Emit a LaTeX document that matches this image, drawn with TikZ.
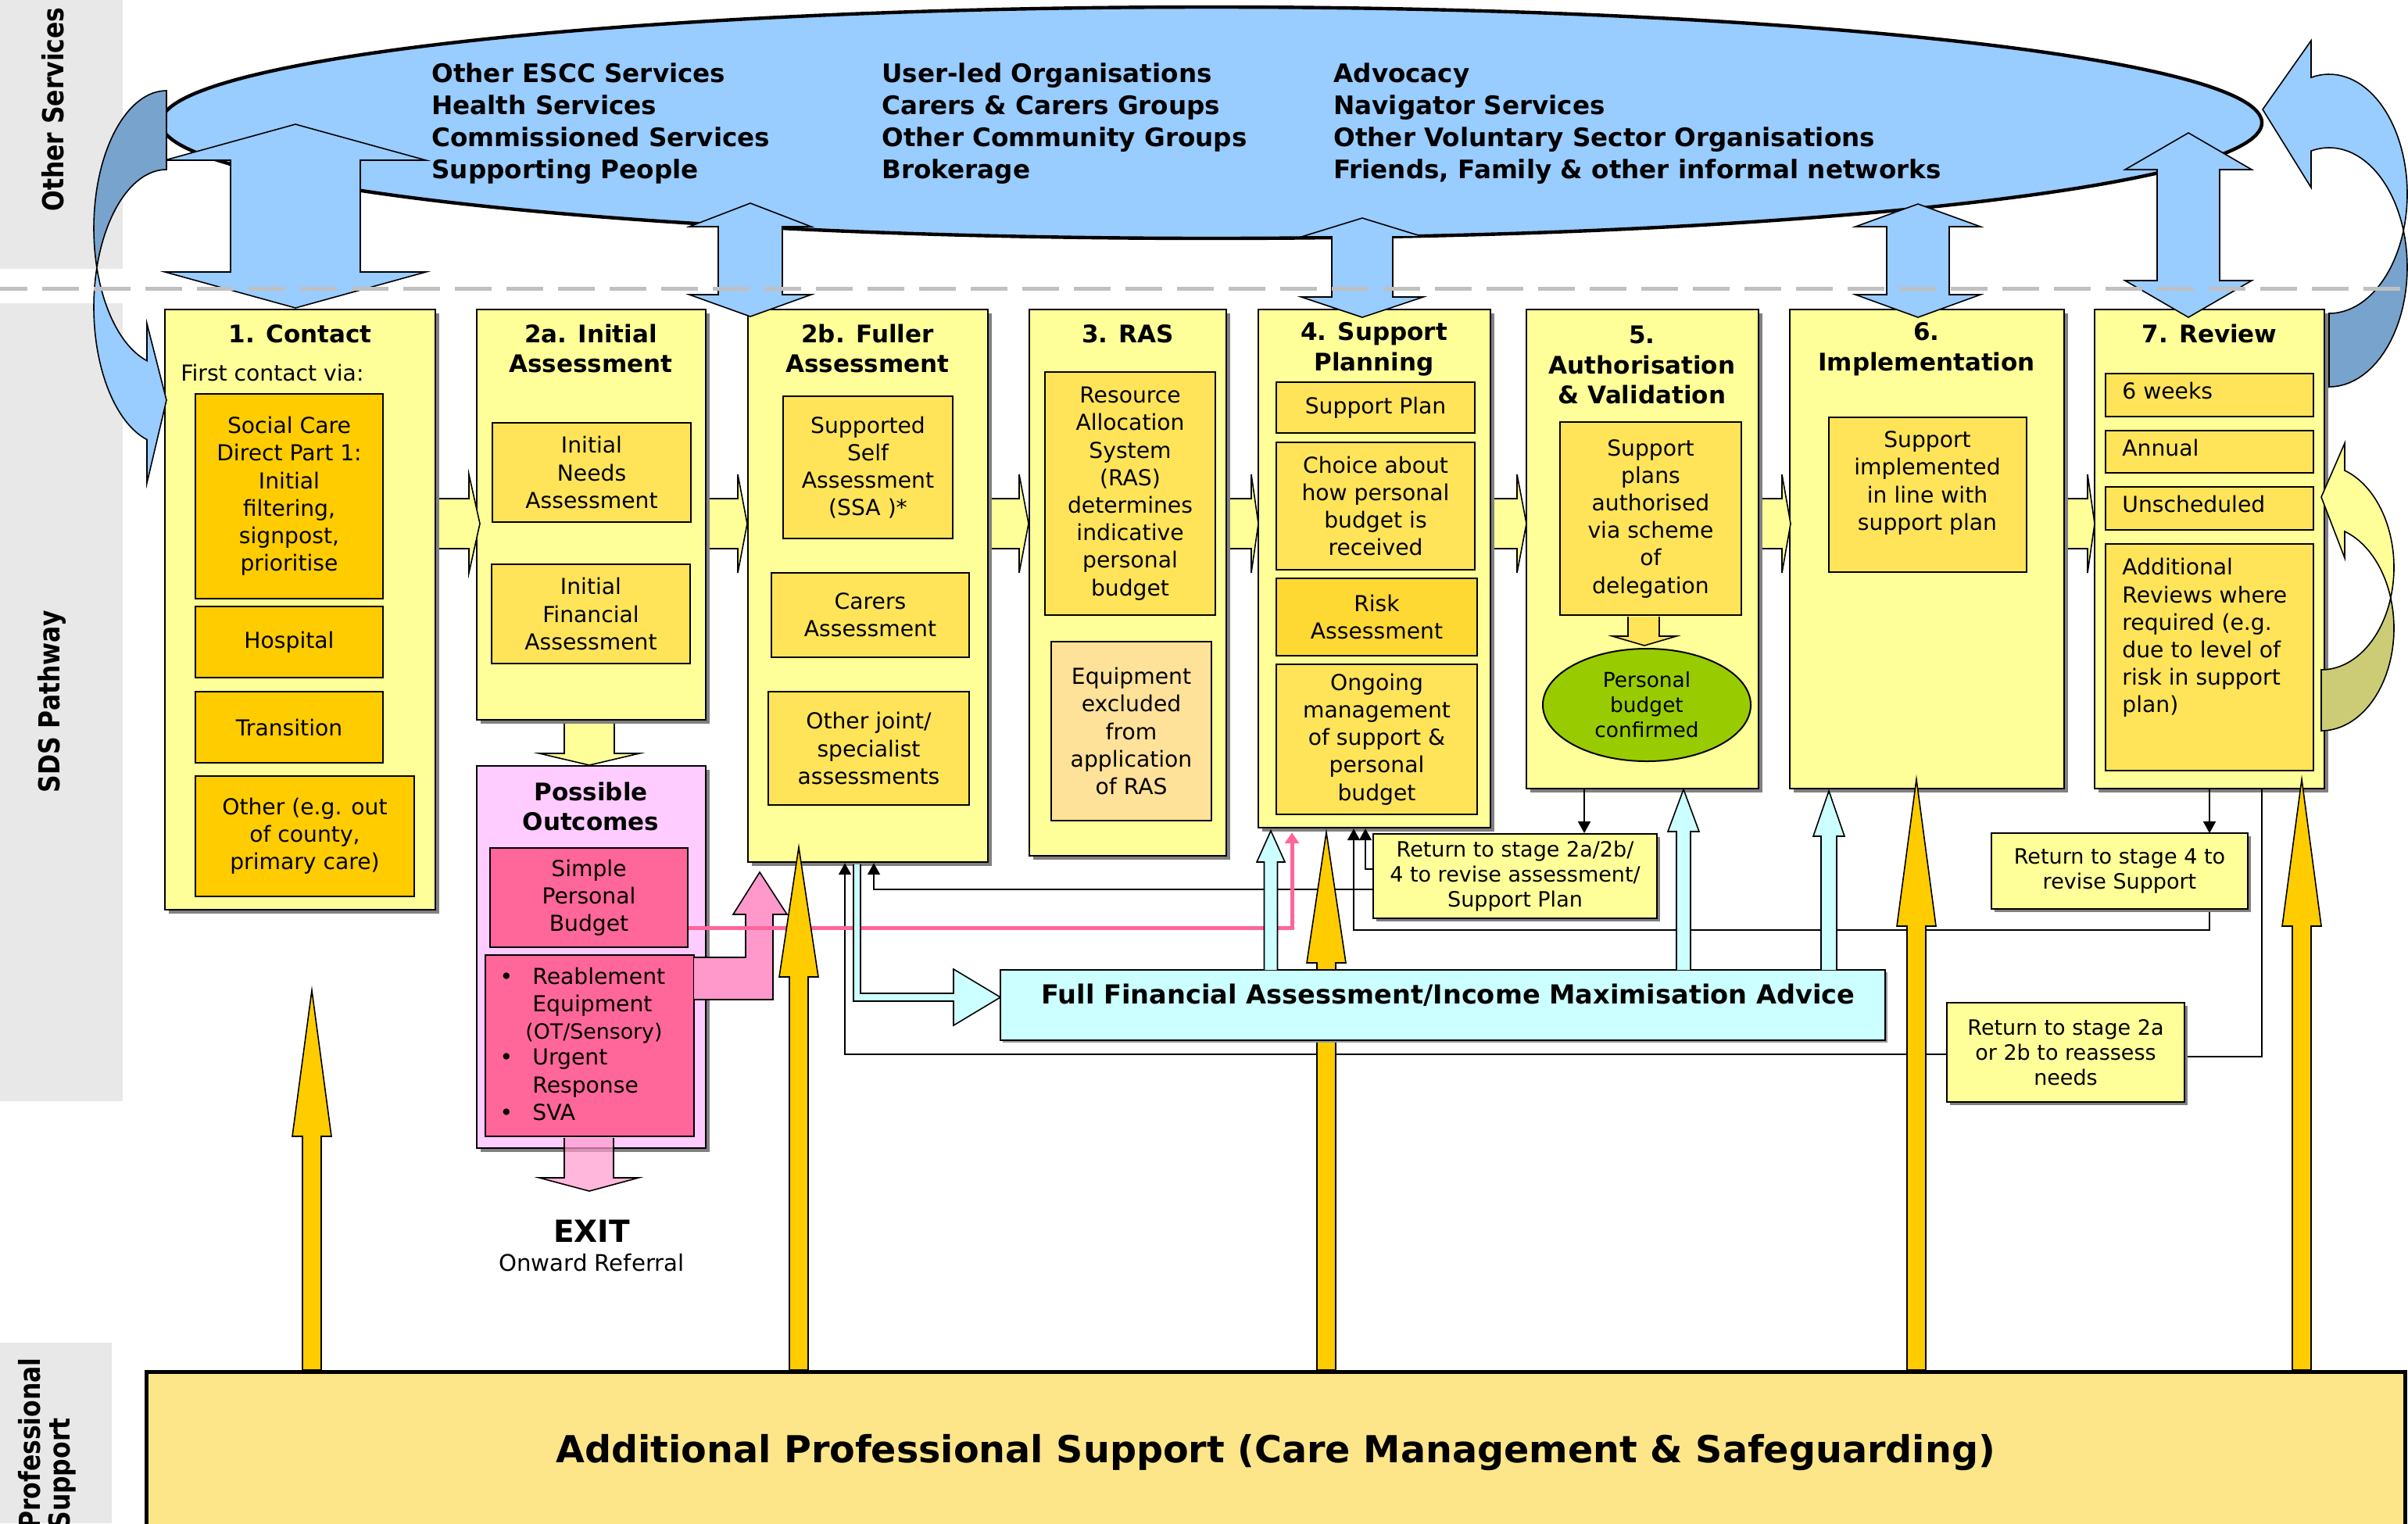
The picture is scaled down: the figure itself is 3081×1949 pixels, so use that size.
\documentclass[tikz,border=0pt]{standalone}
\usepackage{fontspec}
\setmainfont{DejaVu Sans}
\usetikzlibrary{shapes.geometric, arrows.meta, calc, shadows}

\definecolor{stageY}{HTML}{FFFF99}
\definecolor{goldL}{HTML}{FFE459}
\definecolor{orangeC}{HTML}{FFCC00}
\definecolor{equipC}{HTML}{FFE299}
\definecolor{riskC}{HTML}{FFD933}
\definecolor{pinkBg}{HTML}{FFCCFF}
\definecolor{pinkBox}{HTML}{FF6699}
\definecolor{pinkArr}{HTML}{FF99CC}
\definecolor{cyanC}{HTML}{CCFFFF}
\definecolor{blueC}{HTML}{99CCFF}
\definecolor{blueDark}{HTML}{78A3CC}
\definecolor{oliveC}{HTML}{CCCC77}
\definecolor{greenC}{HTML}{99CC00}
\definecolor{profC}{HTML}{FDE68A}
\definecolor{laneC}{HTML}{E8E8E8}
\definecolor{dashC}{HTML}{C0C0C0}

\newcommand\fBody{\fontsize{14.1}{17.6}\selectfont}
\newcommand\fSmall{\fontsize{13.4}{17.6}\selectfont}
\newcommand\fTitle{\fontsize{15.5}{19.4}\selectfont\bfseries}
\newcommand\fRet{\fontsize{13.5}{16}\selectfont}
\newcommand\fEll{\fontsize{16.3}{20.5}\selectfont\bfseries}
\newcommand\fLane{\fontsize{18.5}{21}\selectfont\bfseries}
\newcommand\fGreen{\fontsize{13.2}{16}\selectfont}
\newcommand\fFFA{\fontsize{16.8}{20}\selectfont\bfseries}
\newcommand\fProf{\fontsize{23.8}{28}\selectfont\bfseries}
\newcommand\fExit{\fontsize{19.5}{23}\selectfont\bfseries}
\newcommand\fOnward{\fontsize{14.6}{17}\selectfont}

% box given by its corners (x1,y1) (x2,y2) in pixel units
\newcommand\placebox[7]{\node[#6, minimum width={(#4-#2)*0.5pt}, minimum height={(#5-#3)*0.5pt}] (#1) at ({(#2+#4)/2},{(#3+#5)/2}) {#7};}
% filled block shape whose open side has no outline
\newcommand\openshape[2]{\fill[#1] #2 -- cycle; \draw[line width=0.8pt, line join=miter] #2;}
% yellow flow arrow between stages
\newcommand\rarr[3]{\openshape{stageY}{(#1,638) -- (#2,638) -- (#2,607) -- (#3,670) -- (#2,733) -- (#2,702) -- (#1,702)}}
% gold support arrow: centre x, tip y, head base y
\newcommand\goldarr[3]{\filldraw[fill=orangeC, line width=0.8pt, line join=miter] ({#1-12},1753) -- ({#1-12},#3) -- ({#1-25},#3) -- (#1,#2) -- ({#1+25},#3) -- ({#1+12},#3) -- ({#1+12},1753) -- cycle;}
% two-headed blue arrow: cx, top tip, top base, bottom base, bottom tip, head half width, shaft half width
\newcommand\dblarr[7]{\filldraw[fill=blueC, line width=0.8pt, line join=miter] (#1,#2) -- ({#1+#6},#3) -- ({#1+#7},#3) -- ({#1+#7},#4) -- ({#1+#6},#4) -- (#1,#5) -- ({#1-#6},#4) -- ({#1-#7},#4) -- ({#1-#7},#3) -- ({#1-#6},#3) -- cycle;}

\begin{document}
\begin{tikzpicture}[x=0.5pt, y=-0.5pt,
  stagebox/.style={draw, line width=1.2pt, fill=stageY, inner sep=0pt,
    general shadow={fill=black!50, shadow xshift=2.5pt, shadow yshift=-2.5pt}},
  inbox/.style={draw, line width=1pt, fill=goldL, inner sep=0pt, font=\fBody, align=center},
  retbox/.style={draw, line width=1pt, fill=stageY, inner sep=0pt, font=\fRet, align=center,
    general shadow={fill=black!50, shadow xshift=2pt, shadow yshift=-2pt}},
  stitle/.style={font=\fTitle, align=center, inner sep=0pt},
  lanelbl/.style={font=\fLane, inner sep=0pt},
  elltext/.style={font=\fEll, align=left, inner sep=0pt, anchor=north west},
  lineL/.style={font=\fBody, inner sep=0pt, anchor=west, text height=0.75em, text depth=0.2em},
  bul/.style={font=\fBody, inner sep=0pt, text height=0.75em, text depth=0.2em},
  conn/.style={draw, line width=1pt, -{Triangle[length=7.5pt,width=8pt]}},
  plain/.style={draw, line width=1pt},
  pinkline/.style={draw=pinkBox, line width=2.5pt, -{Triangle[length=7pt,width=9pt]}}
]
\useasboundingbox (0,0) rectangle (3081,1949);
\fill[white] (0,0) rectangle (3081,1949);

% ---------- lane bands ----------
\fill[laneC] (0,0) rectangle (157,344);
\fill[laneC] (0,388) rectangle (157,1409);
\fill[laneC] (0,1718) rectangle (143,1949);
\node[lanelbl, rotate=90] (laneOS) at (68,140) {\scalebox{0.85}[1]{Other Services}};
\node[lanelbl, rotate=90] (laneSDS) at (66,898) {\scalebox{0.85}[1]{SDS Pathway}};
\node[lanelbl, rotate=90, anchor=west] (lanePSa) at (38,1957) {\scalebox{0.85}[1]{Professional}};
\node[lanelbl, rotate=90, anchor=west] (lanePSb) at (80,1957) {\scalebox{0.85}[1]{Support}};

% ---------- stage boxes ----------
\placebox{s1}{211}{396}{557}{1164}{stagebox}{}
\placebox{s2a}{610}{396}{903}{921}{stagebox}{}
\placebox{po}{610}{980}{903}{1469}{stagebox, fill=pinkBg}{}
\placebox{s2b}{957}{396}{1264}{1103}{stagebox}{}
\placebox{s3}{1317}{396}{1569}{1095}{stagebox}{}
\placebox{s4}{1610}{396}{1907}{1059}{stagebox}{}
\placebox{s5}{1953}{396}{2250}{1009}{stagebox}{}
\placebox{s6}{2290}{396}{2641}{1009}{stagebox}{}
\placebox{s7}{2680}{396}{2974}{1009}{stagebox}{}

% stage titles
\node[stitle] (t1) at (384,427) {1. Contact};
\node[stitle] (t2a) at (756,446) {2a. Initial\\Assessment};
\node[stitle] (t2b) at (1110,446) {2b. Fuller\\Assessment};
\node[stitle] (t3) at (1443,427) {3. RAS};
\node[stitle] (t4) at (1758,447) {4. Support\\Planning};
\node[stitle] (t5) at (2101,467) {5.\\Authorisation\\\& Validation};
\node[stitle] (t6) at (2465,447) {6.\\Implementation};
\node[stitle] (t7) at (2827,427) {7. Review};
\node[stitle] (tpo) at (756,1032) {Possible\\Outcomes};

% 1. Contact
\node[font=\fBody, anchor=west, inner sep=0pt] (fcv) at (231,477) {First contact via:};
\placebox{scd}{250}{504}{490}{766}{inbox, fill=orangeC}{Social Care\\Direct Part 1:\\Initial\\filtering,\\signpost,\\prioritise}
\placebox{hosp}{250}{776}{490}{867}{inbox, fill=orangeC}{Hospital}
\placebox{trans}{250}{885}{490}{976}{inbox, fill=orangeC}{Transition}
\placebox{othr}{250}{993}{530}{1147}{inbox, fill=orangeC}{Other (e.g. out\\of county,\\primary care)}

% 2a
\placebox{ina}{630}{541}{884}{668}{inbox}{Initial\\Needs\\Assessment}
\placebox{ifa}{629}{722}{883}{849}{inbox}{Initial\\Financial\\Assessment}

% possible outcomes
\placebox{spb}{627}{1085}{880}{1212}{inbox, fill=pinkBox}{Simple\\Personal\\Budget}
\placebox{reab}{621}{1222}{888}{1454}{inbox, fill=pinkBox}{}
\node[bul] (d1) at (648,1254) {•};
\node[bul] (d2) at (648,1357) {•};
\node[bul] (d3) at (648,1428) {•};
\node[lineL] (b1a) at (681,1254) {Reablement};
\node[lineL] (b1b) at (681,1289) {Equipment};
\node[lineL, font=\fSmall] (b1c) at (672,1324) {(OT/Sensory)};
\node[lineL] (b2a) at (681,1357) {Urgent};
\node[lineL] (b2b) at (681,1393) {Response};
\node[lineL] (b3a) at (681,1428) {SVA};

% 2b
\placebox{ssa}{1002}{507}{1219}{689}{inbox}{Supported\\Self\\Assessment\\(SSA )*}
\placebox{carers}{987}{733}{1240}{841}{inbox}{Carers\\Assessment}
\placebox{ojs}{983}{885}{1240}{1030}{inbox}{Other joint/\\specialist\\assessments}

% 3
\placebox{ras}{1337}{476}{1555}{787}{inbox}{Resource\\Allocation\\System\\(RAS)\\determines\\indicative\\personal\\budget}
\placebox{equip}{1345}{821}{1550}{1050}{inbox, fill=equipC}{Equipment\\excluded\\from\\application\\of RAS}

% 4
\placebox{spl}{1633}{489}{1887}{554}{inbox}{Support Plan}
\placebox{choice}{1633}{566}{1887}{729}{inbox}{Choice about\\how personal\\budget is\\received}
\placebox{risk}{1633}{740}{1890}{839}{inbox, fill=riskC}{Risk\\Assessment}
\placebox{ongo}{1633}{850}{1890}{1042}{inbox}{Ongoing\\management\\of support \&\\personal\\budget}

% 5
\placebox{spa}{1996}{540}{2228}{787}{inbox}{Support\\plans\\authorised\\via scheme\\of\\delegation}
\openshape{goldL}{(2083,789) -- (2083,814) -- (2063,814) -- (2104,826) -- (2145,814) -- (2123,814) -- (2123,789)}
\node[ellipse, draw, line width=1pt, fill=greenC, minimum width={266*0.5pt}, minimum height={144*0.5pt}, inner sep=0pt, font=\fGreen, align=center] (pbc) at (2107,902) {Personal\\budget\\confirmed};

% 6
\placebox{sil}{2340}{534}{2593}{732}{inbox}{}
\node[font=\fBody, align=center, inner sep=0pt] (silt) at (2466,618) {Support\\implemented\\in line with\\support plan};

% 7
\placebox{w6}{2694}{478}{2960}{533}{inbox}{}
\node[lineL] (w6t) at (2715,505) {6 weeks};
\placebox{ann}{2694}{551}{2960}{605}{inbox}{}
\node[lineL] (annt) at (2715,578) {Annual};
\placebox{uns}{2694}{623}{2960}{678}{inbox}{}
\node[lineL] (unst) at (2715,650) {Unscheduled};
\placebox{addl}{2694}{696}{2960}{986}{inbox}{}
\node[font=\fBody, align=left, inner sep=0pt, anchor=north west] (addlt) at (2715,714) {Additional\\Reviews where\\required (e.g.\\due to level of\\risk in support\\plan)};

% flow arrows between stages
\rarr{562}{600}{614}
\rarr{908}{944}{956}
\rarr{1269}{1304}{1316}
\rarr{1574}{1601}{1610}
\rarr{1912}{1941}{1953}
\rarr{2255}{2280}{2291}
\rarr{2646}{2671}{2680}
\openshape{stageY}{(722,926) -- (722,964) -- (690,964) -- (754,979) -- (818,964) -- (786,964) -- (786,926)}

% review loop arrow
\filldraw[fill=oliveC, line width=0.8pt] plot[domain=90:17.3, samples=30] ({2970+93*cos(\x)},{726+131*sin(\x)}) -- plot[domain=-17.3:90, samples=30] ({2970+93*cos(\x)},{804+131*sin(\x)}) -- cycle;
\filldraw[fill=stageY, line width=0.8pt, line join=miter] plot[domain=17.3:-71.2, samples=30] ({2970+93*cos(\x)},{726+131*sin(\x)}) -- (3000,567) -- (2970,636) -- (3000,714) -- plot[domain=-71.2:-17.3, samples=30] ({2970+93*cos(\x)},{804+131*sin(\x)}) -- cycle;

% ---------- other services ----------
\node[ellipse, draw, line width=2.2pt, fill=blueC, minimum width={2688*0.5pt}, minimum height={296*0.5pt}, inner sep=0pt] (services) at (1550,157) {};
\node[elltext] (svcA) at (552,80) {Other ESCC Services\\Health Services\\Commissioned Services\\Supporting People};
\node[elltext] (svcB) at (1128,80) {User-led Organisations\\Carers \& Carers Groups\\Other Community Groups\\Brokerage};
\node[elltext] (svcC) at (1706,80) {Advocacy\\Navigator Services\\Other Voluntary Sector Organisations\\Friends, Family \& other informal networks};

\dblarr{378}{159}{205}{348}{394}{167}{83}
\dblarr{960}{260}{290}{377}{405}{78}{41}
\dblarr{1743}{279}{303}{380}{406}{78}{39}
\dblarr{2454}{261}{290}{377}{406}{80}{40}
\dblarr{2800}{170}{217}{359}{406}{81}{40}

% curved arrow into contact
\filldraw[fill=blueDark, line width=0.8pt] plot[domain=270:163.3, samples=40] ({213+93*cos(\x)},{292+176*sin(\x)}) -- plot[domain=196.7:270, samples=40] ({213+93*cos(\x)},{393+176*sin(\x)}) -- cycle;
\filldraw[fill=blueC, line width=0.8pt, line join=miter] plot[domain=196.7:105.6, samples=40] ({213+93*cos(\x)},{393+176*sin(\x)}) -- (188,618) -- (213,512) -- (188,414) -- plot[domain=105.6:163.3, samples=30] ({213+93*cos(\x)},{292+176*sin(\x)}) -- cycle;

% curved arrow from review back to services
\filldraw[fill=blueDark, line width=0.8pt] plot[domain=90:17.9, samples=30] ({2980+100*cos(\x)},{248+153*sin(\x)}) -- plot[domain=-17.9:90, samples=30] ({2980+100*cos(\x)},{342+153*sin(\x)}) -- cycle;
\filldraw[fill=blueC, line width=0.8pt, line join=miter] plot[domain=17.9:-103.3, samples=40] ({2980+100*cos(\x)},{248+153*sin(\x)}) -- (2957,52) -- (2895,140) -- (2957,240) -- plot[domain=-103.3:-17.9, samples=40] ({2980+100*cos(\x)},{342+153*sin(\x)}) -- cycle;

% lane divider
\draw[dashC, line width=2.5pt, dash pattern=on 23.5pt off 9.5pt, dash phase=6pt] (0,369) -- (3072,369);

% ---------- return routes ----------
\draw[plain] ($(s7.south)+(67,0)$) |- (2795,1352);
\draw[conn] (2491,1349) -| ($(s2b.south)+(-29.5,0)$);
\draw[conn] ($(s5.south)+(-74.5,0)$) coordinate (l6a) -- (l6a |- 0,1066);
\draw[conn] (s7.south) -- (s7.south |- 0,1066);
\draw[conn] (1757,1138) -| ($(s2b.south)+(7.5,0)$);
\draw[conn] (1757,1112) -| ($(s4.south)+(-11.5,0)$);
\draw[conn] (2827,1163) -- (2827,1190) -| ($(s4.south)+(-26.5,0)$);

% possible outcome arrows
\openshape{pinkArr}{(888,1225) -- (954,1225) -- (954,1170) -- (938,1170) -- (972,1116) -- (1007,1170) -- (989,1170) -- (989,1279) -- (888,1279)}
\draw[pinkline] ($(spb.east)+(0,38.5)$) -| ($(s4.south)+(-105.5,5)$);
\openshape{pinkArr, fill opacity=0.7}{(722,1456) -- (722,1507) -- (690,1507) -- (754,1524) -- (817,1507) -- (785,1507) -- (785,1456)}
\node[font=\fExit, inner sep=0pt] (exit) at (757,1575) {EXIT};
\node[font=\fOnward, inner sep=0pt] (onward) at (757,1616) {Onward Referral};

% financial assessment route
\openshape{cyanC}{(1092,1106) -- (1092,1281) -- (1220,1281) -- (1220,1312) -- (1280,1276) -- (1220,1240) -- (1220,1271) -- (1101,1271) -- (1101,1106)}

% professional support arrows
\goldarr{399}{1267}{1454}
\goldarr{1022}{1084}{1250}
\goldarr{1697}{1065}{1232}
\goldarr{2452}{997}{1185}
\goldarr{2945}{997}{1185}

\placebox{ffa}{1280}{1241}{2412}{1331}{draw, line width=1.3pt, fill=cyanC, inner sep=0pt, general shadow={fill=black!40, shadow xshift=1.5pt, shadow yshift=-1.5pt}}{}
\node[font=\fFFA, inner sep=0pt] (ffat) at (1853,1273) {Full Financial Assessment/Income Maximisation Advice};

\openshape{cyanC}{(1617.5,1241) -- (1617.5,1103) -- (1608,1103) -- (1626,1063) -- (1644,1103) -- (1634.5,1103) -- (1634.5,1241)}
\openshape{cyanC}{(2145,1241) -- (2145,1064) -- (2134,1064) -- (2154,1010) -- (2174,1064) -- (2163,1064) -- (2163,1241)}
\openshape{cyanC}{(2330,1241) -- (2330,1070) -- (2320,1070) -- (2340,1012) -- (2360,1070) -- (2350,1070) -- (2350,1241)}

\placebox{r1}{1757}{1067}{2120}{1175}{retbox}{Return to stage 2a/2b/\\4 to revise assessment/\\Support Plan}
\placebox{r2}{2548}{1066}{2876}{1163}{retbox}{Return to stage 4 to\\revise Support}
\placebox{r3}{2491}{1283}{2795}{1410}{retbox}{Return to stage 2a\\or 2b to reassess\\needs}

\placebox{prof}{187}{1755}{3077}{1962}{draw, line width=2.5pt, fill=profC, inner sep=0pt, font=\fProf}{Additional Professional Support (Care Management \& Safeguarding)}
\end{tikzpicture}
\end{document}
